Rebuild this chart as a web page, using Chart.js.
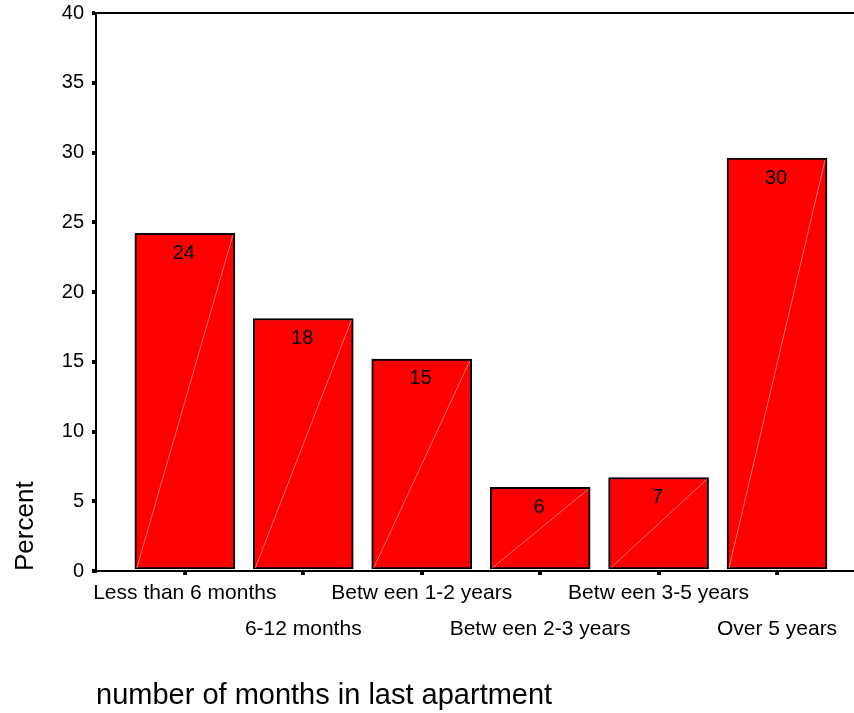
<!DOCTYPE html>
<html>
<head>
<meta charset="utf-8">
<script src="https://cdn.jsdelivr.net/npm/chart.js@4.4.1/dist/chart.umd.min.js"></script>
<style>
  html, body { margin: 0; padding: 0; background: #fff; }
  #wrap { width: 854px; height: 713px; position: relative; overflow: hidden; }
</style>
</head>
<body>
<div id="wrap"><canvas id="c" width="854" height="713"></canvas></div>
<script>
// Time spent in the previous apartment, percent of respondents
const categories = [
  "Less than 6 months",
  "6-12 months",
  "Betw een 1-2 years",
  "Betw een 2-3 years",
  "Betw een 3-5 years",
  "Over 5 years"
];
const percentValues = [24.2, 18.1, 15.2, 6.0, 6.7, 29.6];
const valueLabels = ["24", "18", "15", "6", "7", "30"];
const yTicks = [0, 5, 10, 15, 20, 25, 30, 35, 40];

const FONT = "'Liberation Sans', Arial, Helvetica, sans-serif";

// faint diagonal streak inside each bar, then the value label near the top
const barDecor = {
  id: 'barDecor',
  afterDatasetsDraw(chart) {
    const ctx = chart.ctx;
    const meta = chart.getDatasetMeta(0);
    ctx.save();
    meta.data.forEach((bar, i) => {
      const p = bar.getProps(['x', 'y', 'base', 'width'], true);
      const l = p.x - p.width / 2 + 2, r = p.x + p.width / 2 - 2;
      ctx.strokeStyle = 'rgba(255,190,190,0.75)';
      ctx.lineWidth = 0.8;
      ctx.beginPath();
      ctx.moveTo(l, p.base - 1);
      ctx.lineTo(r, p.y + 2);
      ctx.stroke();
      ctx.fillStyle = '#000';
      ctx.font = '20px ' + FONT;
      ctx.textAlign = 'center';
      ctx.textBaseline = 'middle';
      ctx.fillText(valueLabels[i], p.x - 1, p.y + 20);
    });
    // frame line along the top of the plot area
    const a = chart.chartArea;
    ctx.strokeStyle = '#000';
    ctx.lineWidth = 2;
    ctx.beginPath();
    ctx.moveTo(a.left, a.top);
    ctx.lineTo(a.right, a.top);
    ctx.stroke();
    ctx.restore();
  }
};

new Chart(document.getElementById('c'), {
  type: 'bar',
  data: {
    datasets: [{
      data: percentValues.map((v, i) => ({ x: i, y: v })),
      backgroundColor: '#ff0000',
      borderColor: '#000',
      borderWidth: 2,
      borderSkipped: false,
      barThickness: 100
    }]
  },
  options: {
    responsive: false,
    animation: false,
    layout: { padding: { top: 13, right: 0, left: 0, bottom: 0 } },
    plugins: { legend: { display: false }, tooltip: { enabled: false } },
    scales: {
      x: {
        type: 'linear',
        offset: false,
        min: -0.75,
        max: 5.65,
        afterFit(s) { s.height = 142; },
        afterBuildTicks(s) { s.ticks = categories.map((_, i) => ({ value: i })); },
        grid: { offset: false, drawOnChartArea: false, drawTicks: true, tickLength: 4, lineWidth: 4, color: '#000' },
        border: { display: true, color: '#000', width: 2 },
        ticks: {
          autoSkip: false,
          maxRotation: 0,
          padding: 0,
          color: '#000',
          font: { family: FONT, size: 21, lineHeight: '36px' },
          callback: (v) => (v % 2 === 0 ? [categories[v]] : ['', categories[v]])
        },
        title: {
          display: true,
          text: 'number of months in last apartment',
          align: 'start',
          color: '#000',
          font: { family: FONT, size: 29 },
          padding: { top: 0, bottom: 0 }
        }
      },
      y: {
        min: 0,
        max: 40,
        afterFit(s) { s.width = 96; s.paddingTop = 0; s.paddingBottom = 0; },
        afterBuildTicks(s) { s.ticks = yTicks.map(v => ({ value: v })); },
        grid: { drawOnChartArea: false, drawTicks: true, tickLength: 4, lineWidth: 4, color: '#000' },
        border: { display: true, color: '#000', width: 2 },
        ticks: {
          padding: 8,
          color: '#000',
          font: { family: FONT, size: 20 }
        },
        title: {
          display: true,
          text: 'Percent',
          align: 'start',
          color: '#000',
          font: { family: FONT, size: 26 },
          padding: { top: 10, bottom: 0 }
        }
      }
    }
  },
  plugins: [barDecor]
});
</script>
</body>
</html>
